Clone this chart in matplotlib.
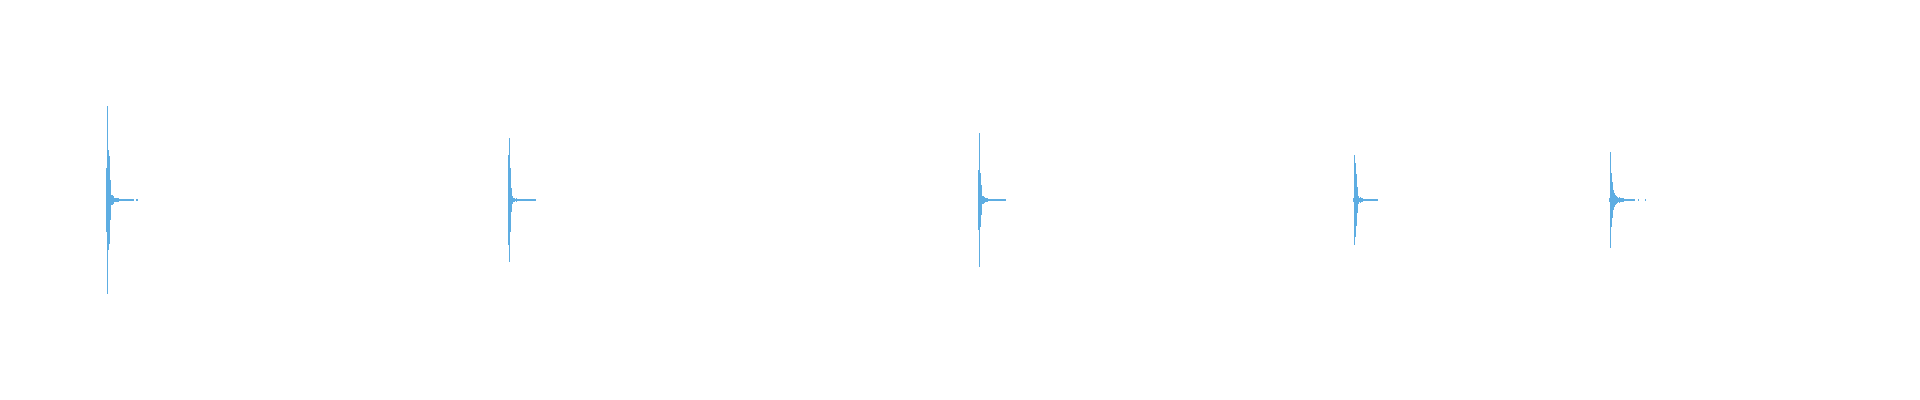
import numpy as np
import matplotlib
matplotlib.use("Agg")
import matplotlib.pyplot as plt

# waveform peak envelope, one value per 5 ms bin, full scale = 1.0
bin_sec = 0.005
duration = 9.6
onsets = [0.530, 2.540, 4.890, 6.765, 8.045]
nan = np.nan

click_1 = [0.16, 0.47, 0.25, 0.22, 0.10, 0.025, 0.027, 0.018, 0.012, 0.012,
           0.008, 0.008, 0.008, 0.005,
           0, 0, 0, 0, 0, 0, 0, 0, 0, 0, 0, 0, 0, 0, nan, nan, 0, 0]
click_2 = [0.225, 0.31, 0.16, 0.06, 0.018, 0.012, 0.008, 0.006, 0.010, 0.006,
           0.005, 0.003,
           0, 0, 0, 0, 0, 0, 0, 0, 0, 0, 0, 0, 0, 0, 0, 0]
click_3 = [0.15, 0.335, 0.135, 0.075, 0.022, 0.018, 0.015, 0.010, 0.008, 0.008,
           0.005, 0.004,
           0, 0, 0, 0, 0, 0, 0, 0, 0, 0, 0, 0, 0, 0, 0, 0]
click_4 = [0.012, 0.225, 0.185, 0.128, 0.065, 0.018, 0.012, 0.014, 0.008, 0.012,
           0.006,
           0, 0, 0, 0, 0, 0, 0, 0, 0, 0, 0, 0, 0, 0]
click_5 = [0.008, 0.24, 0.135, 0.09, 0.05, 0.035, 0.025, 0.02, 0.015, 0.01,
           0.015, 0.01, 0.01, 0.008, 0.012, 0.005, 0.005,
           0, 0, 0, 0, 0, 0, 0, 0, 0, nan, nan, nan, 0,
           nan, nan, nan, nan, nan, nan, 0]
clicks = [click_1, click_2, click_3, click_4, click_5]

wave_color = '#5dade2'
min_half = 0.003  # keep silent bins visible as a thin line

fig = plt.figure(figsize=(19.2, 4.0), dpi=100)
fig.patch.set_facecolor('white')
ax = fig.add_axes([0, 0, 1, 1])
ax.set_xlim(0, duration)
ax.set_ylim(-1, 1)
ax.axis('off')

for t0, env in zip(onsets, clicks):
    env = np.array(env, dtype=float)
    t = t0 + np.arange(len(env)) * bin_sec
    keep = ~np.isnan(env)
    amp = np.maximum(env[keep], min_half)
    ax.bar(t[keep], 2 * amp, bottom=-amp, width=bin_sec, align='edge',
           color=wave_color, linewidth=0)

fig.savefig('out.png', dpi=100, facecolor='white')
